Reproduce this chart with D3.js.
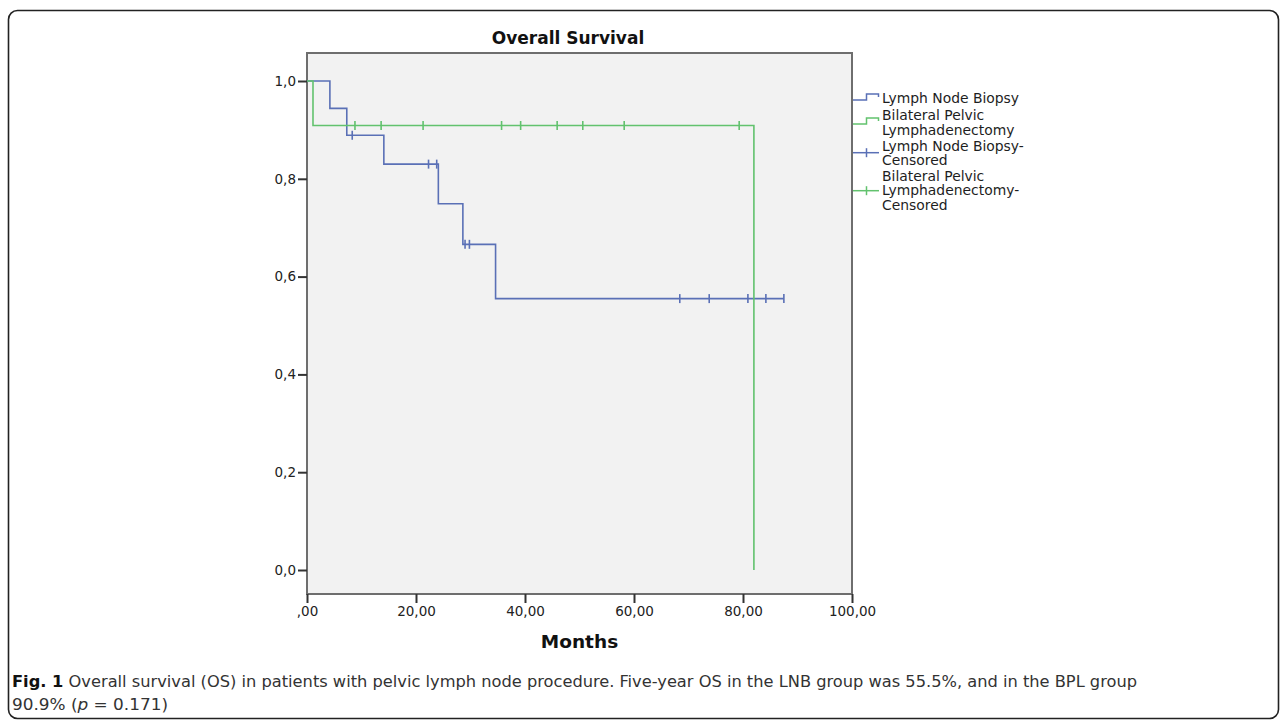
<!DOCTYPE html>
<html>
<head>
<meta charset="utf-8">
<script src="https://cdn.jsdelivr.net/npm/d3@7"></script>
<style>
  html, body { margin: 0; padding: 0; background: #fff; }
  svg { display: block; }
</style>
</head>
<body>
<svg id="chart" width="1287" height="724"></svg>
<script>
// Kaplan-Meier steps (months, survival)
const lnbTimes = [0, 4.2, 7.3, 14.1, 24.1, 28.6, 34.6];
const lnbSurv = [1.0, 0.944, 0.889, 0.830, 0.749, 0.666, 0.555];
const lnbCensored = [8.3, 22.3, 23.8, 29.0, 29.8, 68.4, 73.8, 80.9, 84.2, 87.5];

const bplTimes = [0, 1.1, 82.0];
const bplSurv = [1.0, 0.909, 0.0];
const bplCensored = [8.8, 13.6, 21.3, 35.7, 39.2, 45.9, 50.6, 58.2, 79.3];

const xTicks = [0, 20, 40, 60, 80, 100];
const yTicks = [0, 0.2, 0.4, 0.6, 0.8, 1.0];

const legendLabels = [
  ["Lymph Node Biopsy"],
  ["Bilateral Pelvic", "Lymphadenectomy"],
  ["Lymph Node Biopsy-", "Censored"],
  ["Bilateral Pelvic", "Lymphadenectomy-", "Censored"]
];

const blue = "#5a70b6", green = "#62c26e";
const font = "'DejaVu Sans', Verdana, sans-serif";

const svg = d3.select("#chart");

// outer rounded figure border
svg.append("rect")
  .attr("x", 8.5).attr("y", 10.5)
  .attr("width", 1270).attr("height", 708)
  .attr("rx", 9)
  .attr("fill", "none").attr("stroke", "#222").attr("stroke-width", 1.6);

const x = d3.scaleLinear().domain([0, 100]).range([307, 852]);
const y = d3.scaleLinear().domain([0, 1]).range([570, 81]);

// plot background and frame
svg.append("rect")
  .attr("x", 307).attr("y", 53)
  .attr("width", 852 - 307).attr("height", 594 - 53)
  .attr("fill", "#f2f2f2")
  .attr("stroke", "#6e6e6e").attr("stroke-width", 2);

const comma = v => v.replace(".", ",");

const yAxis = svg.append("g")
  .attr("transform", "translate(307,0)")
  .call(d3.axisLeft(y).tickValues(yTicks).tickSize(9).tickPadding(2)
    .tickFormat(v => comma(d3.format(".1f")(v))));

const xAxis = svg.append("g")
  .attr("transform", "translate(0,594)")
  .call(d3.axisBottom(x).tickValues(xTicks).tickSize(9).tickPadding(3)
    .tickFormat(v => v === 0 ? ",00" : comma(d3.format(".2f")(v))));

[yAxis, xAxis].forEach(g => {
  g.select(".domain").remove();
  g.selectAll(".tick line").attr("stroke", "#333").attr("stroke-width", 2);
  g.selectAll(".tick text")
    .attr("fill", "#222")
    .style("font-family", font)
    .style("font-size", "13.5px");
});

// step curves
function steps(times, surv, end) {
  const pts = [];
  times.forEach((t, i) => {
    if (i > 0) pts.push([t, surv[i - 1]]);
    pts.push([t, surv[i]]);
  });
  if (end != null) pts.push([end, surv[surv.length - 1]]);
  return pts;
}

function survAt(times, surv, t) {
  let s = surv[0];
  times.forEach((tt, i) => { if (tt <= t) s = surv[i]; });
  return s;
}

const line = d3.line().x(d => x(d[0])).y(d => y(d[1]));

function drawGroup(times, surv, cens, end, color) {
  svg.append("path")
    .datum(steps(times, surv, end))
    .attr("d", line)
    .attr("fill", "none")
    .attr("stroke", color)
    .attr("stroke-width", 1.6);
  svg.append("g").selectAll("line")
    .data(cens)
    .join("line")
    .attr("x1", d => x(d)).attr("x2", d => x(d))
    .attr("y1", d => y(survAt(times, surv, d)) - 4.5)
    .attr("y2", d => y(survAt(times, surv, d)) + 4.5)
    .attr("stroke", color)
    .attr("stroke-width", 1.6);
}

drawGroup(lnbTimes, lnbSurv, lnbCensored, d3.max(lnbCensored), blue);
drawGroup(bplTimes, bplSurv, bplCensored, null, green);

// titles
svg.append("text")
  .attr("x", 568).attr("y", 44)
  .attr("text-anchor", "middle")
  .style("font-family", font).style("font-weight", "bold").style("font-size", "17px")
  .attr("fill", "#111")
  .text("Overall Survival");

svg.append("text")
  .attr("x", 579.5).attr("y", 648)
  .attr("text-anchor", "middle")
  .style("font-family", font).style("font-weight", "bold").style("font-size", "18.5px")
  .attr("fill", "#111")
  .text("Months");

// legend
const legendBase = [102.5, 120.4, 150.7, 180.7];
const legendColors = [blue, green, blue, green];
const lineH = 14.6;
const leg = svg.append("g");

legendLabels.forEach((lines, i) => {
  const t = leg.append("text")
    .attr("x", 882).attr("y", legendBase[i])
    .style("font-family", font).style("font-size", "13.9px")
    .attr("fill", "#1e1e1e");
  lines.forEach((s, j) => {
    t.append("tspan").attr("x", 882).attr("dy", j === 0 ? 0 : lineH).text(s);
  });
});

// legend symbols
const symY = [100, 124, 152.7, 190.7];
[0, 1].forEach(i => {
  const yl = symY[i];
  leg.append("path")
    .attr("d", `M853,${yl}H866.5V${yl - 6}H878.5V${yl - 3}`)
    .attr("fill", "none").attr("stroke", legendColors[i]).attr("stroke-width", 1.5);
});
[2, 3].forEach(i => {
  const yl = symY[i];
  leg.append("line")
    .attr("x1", 853).attr("x2", 879).attr("y1", yl).attr("y2", yl)
    .attr("stroke", legendColors[i]).attr("stroke-width", 1.5);
  leg.append("line")
    .attr("x1", 866.5).attr("x2", 866.5).attr("y1", yl - 4.5).attr("y2", yl + 4.5)
    .attr("stroke", legendColors[i]).attr("stroke-width", 1.5);
});

// caption
const capFont = "'Liberation Sans Narrow', 'DejaVu Sans Condensed', 'Liberation Sans', sans-serif";
const cap1 = svg.append("text")
  .attr("x", 12).attr("y", 687)
  .style("font-family", capFont).style("font-size", "16.5px")
  .attr("fill", "#333")
  .attr("textLength", 1125).attr("lengthAdjust", "spacingAndGlyphs");
cap1.append("tspan").style("font-weight", "bold").attr("fill", "#111").text("Fig. 1");
cap1.append("tspan").text(" Overall survival (OS) in patients with pelvic lymph node procedure. Five-year OS in the LNB group was 55.5%, and in the BPL group");

const cap2 = svg.append("text")
  .attr("x", 12).attr("y", 710)
  .style("font-family", capFont).style("font-size", "16.5px")
  .attr("fill", "#333")
  .attr("textLength", 156).attr("lengthAdjust", "spacingAndGlyphs");
cap2.append("tspan").text("90.9% (");
cap2.append("tspan").style("font-style", "italic").text("p");
cap2.append("tspan").text(" = 0.171)");
</script>
</body>
</html>
